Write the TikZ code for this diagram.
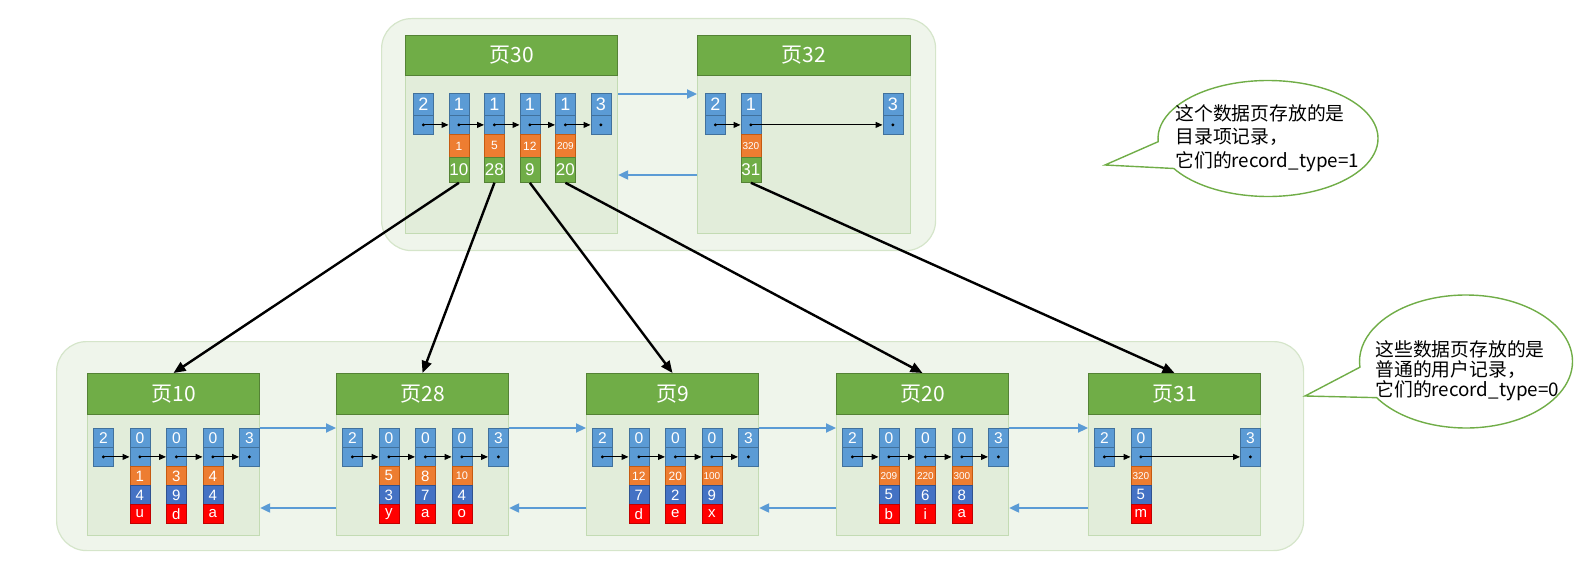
\documentclass[tikz,border=0pt]{standalone}
\usepackage{fontspec}
\setmainfont{Liberation Sans}
\newfontfamily\cjk{Noto Sans CJK SC}
\usepackage{xcolor}
\definecolor{pgouter}{HTML}{EFF5EB}
\definecolor{pgouterline}{HTML}{D5E5CA}
\definecolor{pgbody}{HTML}{E2EDDA}
\definecolor{pgbodyline}{HTML}{C3DBB3}
\definecolor{pghead}{HTML}{70AD47}
\definecolor{pgheadline}{HTML}{548235}
\definecolor{cblue}{HTML}{5B9BD5}
\definecolor{cblueline}{HTML}{41719C}
\definecolor{corange}{HTML}{ED7D31}
\definecolor{corangeline}{HTML}{C55A11}
\definecolor{cdark}{HTML}{4472C4}
\definecolor{cdarkline}{HTML}{2F528F}
\definecolor{cred}{HTML}{FF0000}
\definecolor{credline}{HTML}{C00000}
\usepackage{tikz}
\usetikzlibrary{arrows.meta, shapes.callouts, calc}

\begin{document}
\begin{tikzpicture}[x=0.5pt, y=-0.5pt,
  outerbox/.style={draw=pgouterline, fill=pgouter, rounded corners=15pt, line width=0.6pt},
  pagebody/.style={draw=pgbodyline, fill=pgbody, anchor=north west, inner sep=0, minimum width=86pt, line width=0.6pt},
  pagehead/.style={draw=pgheadline, fill=pghead, anchor=north west, inner sep=0, minimum width=86pt,
    minimum height=20.5pt, text=white, font=\cjk\fontsize{10.5}{12}\selectfont, line width=0.5pt},
  cell/.style={anchor=north west, inner sep=0, minimum width=10pt, text=white, line width=0.4pt},
  blu/.style={cell, fill=cblue, draw=cblueline},
  dot/.style={blu, path picture={\fill[black] (path picture bounding box.center) circle[radius=0.8pt];}},
  org/.style={cell, fill=corange, draw=corangeline},
  grn/.style={cell, fill=pghead, draw=pgheadline, minimum height=12.5pt, font=\fontsize{8.5}{8.5}\selectfont},
  dkb/.style={cell, fill=cdark, draw=cdarkline, minimum height=9.5pt, font=\fontsize{7.5}{7.5}\selectfont},
  rdc/.style={cell, fill=cred, draw=credline, minimum height=9.5pt, font=\fontsize{7.5}{7.5}\selectfont},
  dirA/.style={blu, minimum height=11pt, font=\fontsize{9}{9}\selectfont},
  dirB/.style={dot, minimum height=9.5pt},
  leafA/.style={blu, minimum height=9.5pt, font=\fontsize{7.8}{7.8}\selectfont},
  leafB/.style={dot, minimum height=9.5pt},
  nxt/.style={-{Triangle[length=3.5pt,width=3pt]}, line width=0.5pt},
  link/.style={-{Triangle[length=5pt,width=4.5pt]}, line width=1.1pt, draw=cblue},
  tree/.style={-{Triangle[length=6pt,width=5pt]}, line width=1.2pt},
  bubble/.style={ellipse callout, draw=pghead, fill=white, line width=0.7pt, inner sep=0, callout pointer arc=28},
  note/.style={align=left, inner sep=0, anchor=west}
]
\useasboundingbox (0,0) rectangle (1574,577);

% containers
\node[outerbox, draw, anchor=north west, minimum width=277pt, minimum height=116pt] (upper) at (381,18) {};
\node[outerbox, draw, anchor=north west, minimum width=623.5pt, minimum height=104.5pt] (lower) at (56,341) {};

% page 30
\node[pagebody, minimum width=106pt, minimum height=99pt] (p30) at (405,35) {};
\node[pagehead, minimum width=106pt, minimum height=20pt] (h30) at (405,35) {页30};
\node[dirA] (p30a0) at (413,93) {2};
\node[dirB] (p30b0) at (413,115) {};
\foreach \o/\f/\g [count=\i] in {1/6/10,5/6/28,12/6/9,209/5/20} {
  \node[dirA] (p30a\i) at (413+35.5*\i,93) {1};
  \node[dirB] (p30b\i) at (413+35.5*\i,115) {};
  \node[org, minimum height=11.5pt, font=\fontsize{\f}{\f}\selectfont] (p30o\i) at (413+35.5*\i,134) {\o};
  \node[grn] (p30g\i) at (413+35.5*\i,157) {\g};
}
\node[dirA] (p30a5) at (590.5,93) {3};
\node[dirB] (p30b5) at (590.5,115) {};
\foreach \i/\j in {0/1,1/2,2/3,3/4,4/5}
  \draw[nxt] (p30b\i.center) -- (p30b\j.west);

% page 32
\node[pagebody, minimum width=106.5pt, minimum height=99pt] (p32) at (697,35) {};
\node[pagehead, minimum width=106.5pt, minimum height=20pt] (h32) at (697,35) {页32};
\node[dirA] (p32a0) at (705,93) {2};
\node[dirB] (p32b0) at (705,115) {};
\node[dirA] (p32a1) at (740.5,93) {1};
\node[dirB] (p32b1) at (740.5,115) {};
\node[org, minimum height=11.5pt, font=\fontsize{5}{5}\selectfont] (p32o1) at (740.5,134) {320};
\node[grn] (p32g1) at (740.5,157) {31};
\node[dirA] (p32a2) at (882.5,93) {3};
\node[dirB] (p32b2) at (882.5,115) {};
\draw[nxt] (p32b0.center) -- (p32b1.west);
\draw[nxt] (p32b1.center) -- (p32b2.west);

\draw[link] (p30.east |- 0,94) -- (p32.west |- 0,94);
\draw[link] (p32.west |- 0,175) -- (p30.east |- 0,175);

% leaf pages
\foreach \p/\L in {10/87,28/336,9/586,20/836,31/1088} {
  \node[pagebody, minimum height=81pt] (p\p) at (\L,373) {};
  \node[pagehead] (h\p) at (\L,373) {页\p};
  \node[leafA] (p\p a0) at (\L+6,428) {2};
  \node[leafB] (p\p b0) at (\L+6,447) {};
}

% page 10
\foreach \o/\f/\k/\c [count=\i] in {1/7.5/4/u,3/7.5/9/d,4/7.5/4/a} {
  \node[leafA] (p10a\i) at (93+36.5*\i,428) {0};
  \node[leafB] (p10b\i) at (93+36.5*\i,447) {};
  \node[org, minimum height=9.5pt, font=\fontsize{\f}{\f}\selectfont] (p10o\i) at (93+36.5*\i,466) {\o};
  \node[dkb] (p10k\i) at (93+36.5*\i,485) {\k};
  \node[rdc] (p10r\i) at (93+36.5*\i,504) {\c};
}
\node[leafA] (p10a4) at (239,428) {3};
\node[leafB] (p10b4) at (239,447) {};

% page 28
\foreach \o/\f/\k/\c [count=\i] in {5/7.5/3/y,8/7.5/7/a,10/5.5/4/o} {
  \node[leafA] (p28a\i) at (342+36.5*\i,428) {0};
  \node[leafB] (p28b\i) at (342+36.5*\i,447) {};
  \node[org, minimum height=9.5pt, font=\fontsize{\f}{\f}\selectfont] (p28o\i) at (342+36.5*\i,466) {\o};
  \node[dkb] (p28k\i) at (342+36.5*\i,485) {\k};
  \node[rdc] (p28r\i) at (342+36.5*\i,504) {\c};
}
\node[leafA] (p28a4) at (488,428) {3};
\node[leafB] (p28b4) at (488,447) {};

% page 9
\foreach \o/\f/\k/\c [count=\i] in {12/6/7/d,20/6/2/e,100/5/9/x} {
  \node[leafA] (p9a\i) at (592+36.5*\i,428) {0};
  \node[leafB] (p9b\i) at (592+36.5*\i,447) {};
  \node[org, minimum height=9.5pt, font=\fontsize{\f}{\f}\selectfont] (p9o\i) at (592+36.5*\i,466) {\o};
  \node[dkb] (p9k\i) at (592+36.5*\i,485) {\k};
  \node[rdc] (p9r\i) at (592+36.5*\i,504) {\c};
}
\node[leafA] (p9a4) at (738,428) {3};
\node[leafB] (p9b4) at (738,447) {};

% page 20
\foreach \o/\f/\k/\c [count=\i] in {209/5/5/b,220/5/6/i,300/5/8/a} {
  \node[leafA] (p20a\i) at (842+36.5*\i,428) {0};
  \node[leafB] (p20b\i) at (842+36.5*\i,447) {};
  \node[org, minimum height=9.5pt, font=\fontsize{\f}{\f}\selectfont] (p20o\i) at (842+36.5*\i,466) {\o};
  \node[dkb] (p20k\i) at (842+36.5*\i,485) {\k};
  \node[rdc] (p20r\i) at (842+36.5*\i,504) {\c};
}
\node[leafA] (p20a4) at (988,428) {3};
\node[leafB] (p20b4) at (988,447) {};

\foreach \p in {10,28,9,20} {
  \foreach \i/\j in {0/1,1/2,2/3,3/4}
    \draw[nxt] (p\p b\i.center) -- (p\p b\j.west);
}

% page 31
\node[leafA] (p31a1) at (1130.5,428) {0};
\node[leafB] (p31b1) at (1130.5,447) {};
\node[org, minimum height=9.5pt, font=\fontsize{5}{5}\selectfont] (p31o1) at (1130.5,466) {320};
\node[dkb] (p31k1) at (1130.5,485) {5};
\node[rdc] (p31r1) at (1130.5,504) {m};
\node[leafA] (p31a2) at (1240,428) {3};
\node[leafB] (p31b2) at (1240,447) {};
\draw[nxt] (p31b0.center) -- (p31b1.west);
\draw[nxt] (p31b1.center) -- (p31b2.west);

% sibling links
\foreach \a/\b in {10/28,28/9,9/20,20/31} {
  \draw[link] (p\a.east |- 0,428) -- (p\b.west |- 0,428);
  \draw[link] (p\b.west |- 0,508) -- (p\a.east |- 0,508);
}

% parent to child
\draw[tree] (p30g1.south) -- (h10.north);
\draw[tree] (p30g2.south) -- (h28.north);
\draw[tree] (p30g3.south) -- (h9.north);
\draw[tree] (p30g4.south) -- (h20.north);
\draw[tree] (p32g1.south) -- (h31.north);

% notes
\coordinate (tip1) at (1105,165);
\coordinate (tip2) at (1305,396);
\node[bubble, minimum width=110pt, minimum height=58pt, callout absolute pointer=(tip1)] (bub1) at (1268,138.5) {};
\node[note, font=\cjk\fontsize{9.4}{11.75}\selectfont] (txt1) at (1175,138) {这个数据页存放的是\\目录项记录，\\它们的record\_type=1};
\node[bubble, minimum width=106.5pt, minimum height=66.5pt, callout absolute pointer=(tip2)] (bub2) at (1466,361.5) {};
\node[note, font=\cjk\fontsize{9.4}{10}\selectfont] (txt2) at (1375,371) {这些数据页存放的是\\普通的用户记录，\\它们的record\_type=0};
\end{tikzpicture}
\end{document}
